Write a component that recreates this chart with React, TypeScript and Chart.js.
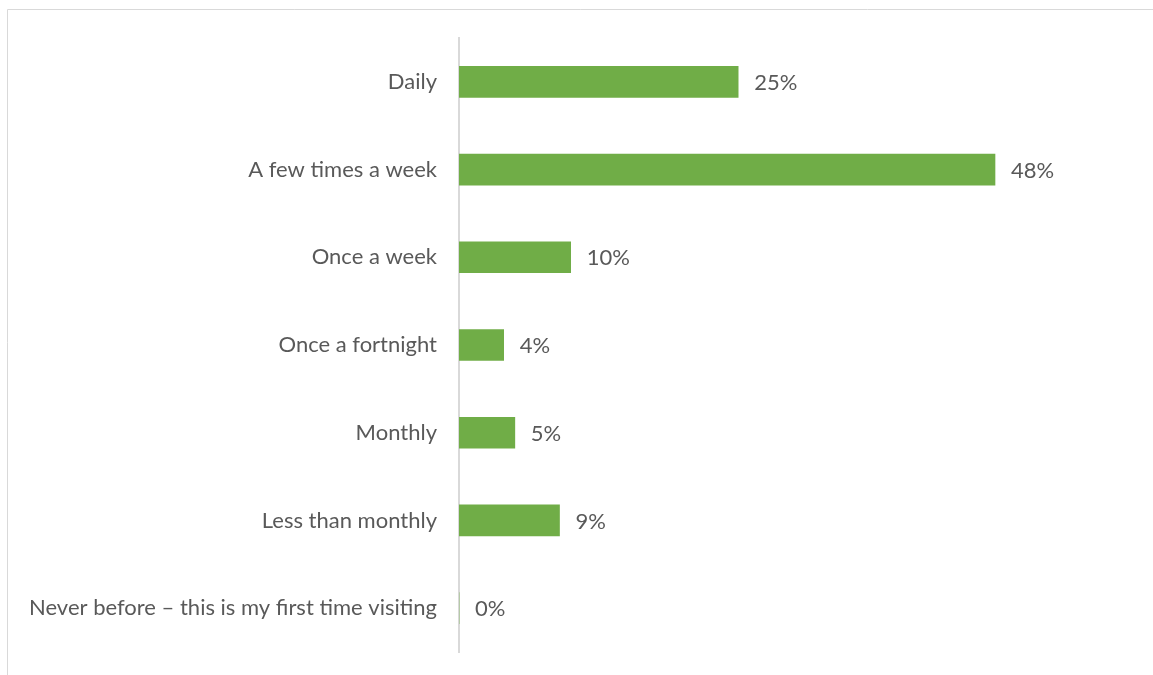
import React, { useEffect, useRef } from "react";
import { Chart, registerables } from "chart.js";

Chart.register(...registerables);

const categories = [
  "Daily",
  "A few times a week",
  "Once a week",
  "Once a fortnight",
  "Monthly",
  "Less than monthly",
  "Never before – this is my first time visiting",
];
const values = [25, 48, 10, 4, 5, 9, 0];
const valueLabels = ["25%", "48%", "10%", "4%", "5%", "9%", "0%"];

const FONT = "Lato, 'Open Sans', sans-serif";
const TEXT = "#595959";
const BAR = "#70AD47";

const borderPlugin = {
  id: "outerBorder",
  beforeDraw(chart: any) {
    const ctx = chart.ctx;
    ctx.save();
    ctx.strokeStyle = "#D9D9D9";
    ctx.lineWidth = 1;
    ctx.beginPath();
    ctx.moveTo(chart.width + 5, 9.5);
    ctx.lineTo(7.5, 9.5);
    ctx.lineTo(7.5, chart.height + 5);
    ctx.stroke();
    ctx.restore();
  },
};

const labelPlugin = {
  id: "valueLabels",
  afterDatasetsDraw(chart: any) {
    const ctx = chart.ctx;
    const meta = chart.getDatasetMeta(0);
    ctx.save();
    ctx.font = `22px ${FONT}`;
    ctx.fillStyle = TEXT;
    ctx.textAlign = "left";
    ctx.textBaseline = "middle";
    meta.data.forEach((bar: any, i: number) => {
      ctx.fillText(valueLabels[i], bar.x + 16, bar.y + 1);
    });
    ctx.restore();
  },
};

export default function App() {
  const ref = useRef<HTMLCanvasElement>(null);
  useEffect(() => {
    if (!ref.current) return;
    const chart = new Chart(ref.current, {
      type: "bar",
      data: {
        labels: categories,
        datasets: [
          {
            data: values,
            backgroundColor: BAR,
            borderWidth: 0,
            barThickness: 31,
          },
        ],
      },
      options: {
        indexAxis: "y",
        animation: false,
        responsive: false,
        maintainAspectRatio: false,
        layout: { padding: { top: 38, bottom: 23, right: 24, left: 0 } },
        plugins: {
          legend: { display: false },
          tooltip: { enabled: false },
        },
        scales: {
          x: {
            display: false,
            min: 0,
            max: 60,
          },
          y: {
            afterFit(scale: any) {
              scale.width = 459;
              scale.paddingTop = 0;
              scale.paddingBottom = 0;
            },
            grid: { display: false, drawTicks: false },
            border: { display: true, color: "#D9D9D9", width: 2 },
            ticks: {
              color: TEXT,
              padding: 22,
              font: { family: FONT, size: 22 },
            },
          },
        },
      },
      plugins: [borderPlugin, labelPlugin],
    });
    return () => chart.destroy();
  }, []);
  return (
    <div style={{ position: "absolute", left: 0, top: 0, width: 1153, height: 675, background: "#fff" }}>
      <canvas ref={ref} width={1153} height={675} style={{ display: "block" }} />
    </div>
  );
}
